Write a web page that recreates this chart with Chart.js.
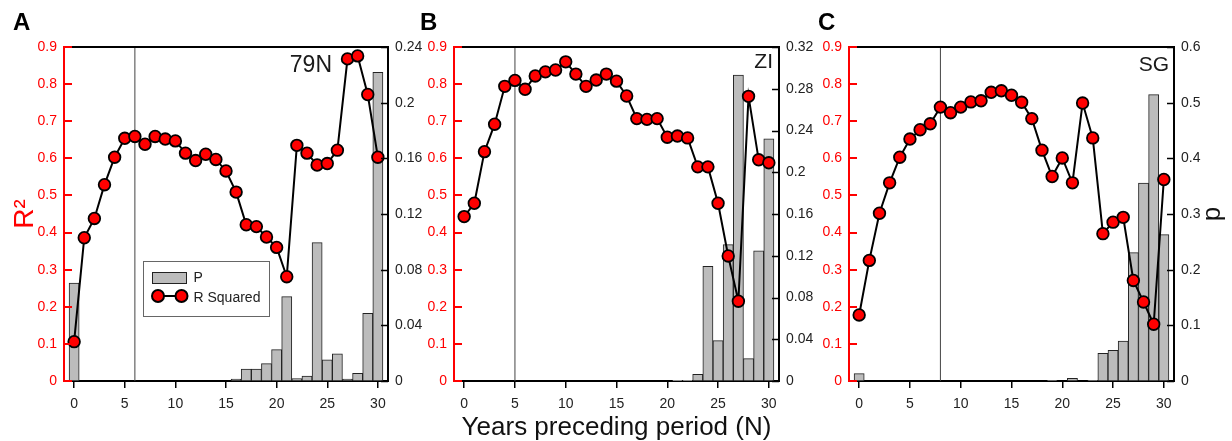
<!DOCTYPE html>
<html>
<head>
<meta charset="utf-8">
<script src="https://cdn.jsdelivr.net/npm/chart.js@4.4.1/dist/chart.umd.min.js"></script>
<style>
html, body { margin: 0; padding: 0; background: #fff; }
body { width: 1232px; height: 441px; position: relative; overflow: hidden; }
canvas { position: absolute; top: 0; }
.tag { position: absolute; top: 10px; font: bold 24px/1 "Liberation Sans", Arial, sans-serif; color: #000; }
</style>
</head>
<body>
<canvas id="cA" width="425" height="441" style="left:0px"></canvas>
<canvas id="cB" width="420" height="441" style="left:405px"></canvas>
<canvas id="cC" width="427" height="441" style="left:805px"></canvas>
<div class="tag" style="left:13px">A</div>
<div class="tag" style="left:420px">B</div>
<div class="tag" style="left:818px">C</div>
<script>
const years = [0, 1, 2, 3, 4, 5, 6, 7, 8, 9, 10, 11, 12, 13, 14, 15, 16, 17, 18, 19, 20, 21, 22, 23, 24, 25, 26, 27, 28, 29, 30];

// 79N
const r2_79N = [0.106, 0.386, 0.438, 0.529, 0.603, 0.654, 0.659, 0.638, 0.659, 0.652, 0.647, 0.614, 0.594, 0.611, 0.597, 0.566,
  0.509, 0.421, 0.416, 0.388, 0.360, 0.281, 0.635, 0.614, 0.582, 0.586, 0.622, 0.868, 0.876, 0.772, 0.603];
const p_79N = [0.0704, 0, 0, 0, 0, 0, 0, 0, 0, 0, 0, 0, 0, 0, 0, 0,
  0.0014, 0.0086, 0.0086, 0.0125, 0.0225, 0.0606, 0.0017, 0.0036, 0.0994, 0.0153, 0.0196, 0.0014, 0.0055, 0.0486, 0.2218];
const cut_79N = 6;

// ZI
const r2_ZI = [0.443, 0.479, 0.618, 0.692, 0.794, 0.810, 0.786, 0.822, 0.833, 0.838, 0.860, 0.827, 0.794, 0.811, 0.827, 0.808,
  0.768, 0.707, 0.705, 0.707, 0.657, 0.660, 0.655, 0.577, 0.577, 0.479, 0.337, 0.215, 0.767, 0.596, 0.588];
const p_ZI = [0, 0, 0, 0, 0, 0, 0, 0, 0, 0, 0, 0, 0, 0, 0, 0,
  0, 0, 0, 0, 0, 0.0006, 0.0006, 0.0064, 0.1098, 0.0387, 0.1306, 0.2931, 0.0214, 0.1248, 0.2320];
const cut_ZI = 5;

// SG
const r2_SG = [0.178, 0.325, 0.452, 0.534, 0.603, 0.652, 0.677, 0.693, 0.738, 0.723, 0.738, 0.752, 0.755, 0.778, 0.782, 0.770,
  0.751, 0.707, 0.622, 0.551, 0.601, 0.534, 0.749, 0.655, 0.397, 0.428, 0.441, 0.271, 0.213, 0.153, 0.543];
const p_SG = [0.0132, 0, 0, 0, 0, 0, 0, 0, 0, 0, 0, 0, 0, 0, 0, 0,
  0, 0, 0, 0.001, 0, 0.0048, 0, 0.001, 0.0497, 0.0551, 0.0719, 0.2305, 0.3557, 0.5144, 0.2629];
const cut_SG = 8;

// axis ticks
const xTicks = [0, 5, 10, 15, 20, 25, 30];
const r2Ticks = [0, 0.1, 0.2, 0.3, 0.4, 0.5, 0.6, 0.7, 0.8, 0.9];
const pTicks_79N = [0, 0.04, 0.08, 0.12, 0.16, 0.2, 0.24];
const pTicks_ZI = [0, 0.04, 0.08, 0.12, 0.16, 0.2, 0.24, 0.28, 0.32];
const pTicks_SG = [0, 0.1, 0.2, 0.3, 0.4, 0.5, 0.6];

const RED = '#ff0000';
const BAR = '#bcbcbc';
const FONT = '"Liberation Sans", Arial, Helvetica, sans-serif';
Chart.defaults.font.family = FONT;
Chart.defaults.color = '#222';

function xy(ys) { return years.map((x, i) => ({ x: x, y: ys[i] })); }
function fix(list) { return s => { s.ticks = list.map(v => ({ value: v })); }; }
function fmt(v) { return String(+v.toFixed(3)); }

// frame top, inward ticks, station name, legend and p title
const decor = {
  id: 'decor',
  afterDraw(chart, args, o) {
    const { ctx, chartArea: a } = chart;
    const yl = chart.scales.y, yr = chart.scales.y2;
    ctx.save();
    ctx.strokeStyle = '#000';
    ctx.lineWidth = 2;
    ctx.beginPath(); ctx.moveTo(a.left, a.top); ctx.lineTo(a.right + 1, a.top); ctx.stroke();

    ctx.strokeStyle = RED; ctx.lineWidth = 2;
    yl.ticks.forEach(t => {
      const y = Math.round(yl.getPixelForValue(t.value));
      ctx.beginPath(); ctx.moveTo(a.left, y); ctx.lineTo(a.left + 8, y); ctx.stroke();
    });
    ctx.strokeStyle = '#000'; ctx.lineWidth = 1.5;
    yr.ticks.forEach(t => {
      const y = Math.round(yr.getPixelForValue(t.value)) + 0.5;
      ctx.beginPath(); ctx.moveTo(a.right, y); ctx.lineTo(a.right - 7, y); ctx.stroke();
    });

    ctx.fillStyle = '#1a1a1a';
    ctx.font = o.size + 'px ' + FONT;
    ctx.textAlign = 'right';
    ctx.textBaseline = 'alphabetic';
    ctx.fillText(o.station, a.right - o.dx, a.top + o.dy);

    if (o.legend) {
      const ds = chart.data.datasets;
      const bx = a.left + 79, by = a.top + 214;
      ctx.fillStyle = '#fff'; ctx.fillRect(bx, by, 126, 55);
      ctx.strokeStyle = '#666'; ctx.lineWidth = 1; ctx.strokeRect(bx + 0.5, by + 0.5, 126, 55);
      ctx.fillStyle = BAR; ctx.fillRect(a.left + 88.5, a.top + 225.5, 34, 11);
      ctx.strokeStyle = '#222'; ctx.strokeRect(a.left + 88.5, a.top + 225.5, 34, 11);
      ctx.strokeStyle = '#000'; ctx.lineWidth = 2;
      ctx.beginPath(); ctx.moveTo(a.left + 94, a.top + 249); ctx.lineTo(a.left + 117.5, a.top + 249); ctx.stroke();
      [94, 117.5].forEach(dx => {
        ctx.beginPath(); ctx.arc(a.left + dx, a.top + 249, 6, 0, Math.PI * 2);
        ctx.fillStyle = RED; ctx.fill(); ctx.stroke();
      });
      ctx.fillStyle = '#222'; ctx.font = '14px ' + FONT; ctx.textAlign = 'left';
      ctx.fillText(ds[2].label, a.left + 129.5, a.top + 234.7);
      ctx.fillText(ds[0].label, a.left + 129.5, a.top + 254.7);
    }

    if (o.pTitle) {
      ctx.translate(a.right + 45.5, (a.top + a.bottom) / 2);
      ctx.rotate(-Math.PI / 2);
      ctx.fillStyle = '#111'; ctx.font = '26px ' + FONT; ctx.textAlign = 'center';
      ctx.fillText(o.pTitle, 0, 0);
    }
    ctx.restore();
  }
};

const panels = [
  { id: 'cA', r2: r2_79N, p: p_79N, cut: cut_79N, pMax: 0.24, pTicks: pTicks_79N, lw: 64, rw: 37,
    station: '79N', size: 23, dx: 56, dy: 25.3, r2Title: true, legend: true },
  { id: 'cB', r2: r2_ZI, p: p_ZI, cut: cut_ZI, pMax: 0.32, pTicks: pTicks_ZI, lw: 49, rw: 46,
    station: 'ZI', size: 21, dx: 6, dy: 21.3, xTitle: true },
  { id: 'cC', r2: r2_SG, p: p_SG, cut: cut_SG, pMax: 0.6, pTicks: pTicks_SG, lw: 44, rw: 58,
    station: 'SG', size: 21, dx: 5, dy: 23.7, pTitle: 'p' }
];

panels.forEach(cfg => {
  new Chart(document.getElementById(cfg.id), {
    type: 'bar',
    data: {
      datasets: [
        { type: 'line', label: 'R Squared', data: xy(cfg.r2), yAxisID: 'y', borderColor: '#000', borderWidth: 2,
          pointRadius: 5.8, pointBackgroundColor: RED, pointBorderColor: '#000', pointBorderWidth: 1.8, order: 0 },
        { type: 'line', label: 'N', data: [{ x: cfg.cut, y: 0 }, { x: cfg.cut, y: 0.9 }], yAxisID: 'y',
          borderColor: '#444', borderWidth: 1, pointRadius: 0, order: 1 },
        { type: 'bar', label: 'P', data: xy(cfg.p), yAxisID: 'y2', backgroundColor: BAR, borderColor: '#222',
          borderWidth: 1, borderSkipped: false, barPercentage: 1, categoryPercentage: 1, order: 2 }
      ]
    },
    options: {
      responsive: false,
      animation: false,
      events: [],
      layout: { padding: { top: 47, left: 0, right: 0, bottom: 0 } },
      plugins: {
        legend: { display: false },
        tooltip: { enabled: false },
        decor: cfg
      },
      scales: {
        x: {
          type: 'linear', min: -1, max: 31, offset: false,
          afterBuildTicks: fix(xTicks),
          afterFit: s => { s.height = 60; },
          grid: { display: true, drawOnChartArea: false, drawTicks: true, tickLength: 7, color: '#000', lineWidth: 1.5, offset: false },
          border: { display: true, color: '#000', width: 2 },
          ticks: { color: '#222', font: { size: 14 }, padding: 8, maxRotation: 0, autoSkip: false, callback: fmt },
          title: { display: !!cfg.xTitle, text: 'Years preceding period (N)', color: '#111', font: { size: 26 }, padding: { top: 0, bottom: -2 } }
        },
        y: {
          type: 'linear', position: 'left', min: 0, max: 0.9,
          afterBuildTicks: fix(r2Ticks),
          afterFit: s => { s.width = cfg.lw; },
          grid: { display: false, drawTicks: false },
          border: { display: true, color: RED, width: 2 },
          ticks: { color: RED, font: { size: 14 }, padding: 7, callback: fmt },
          title: { display: !!cfg.r2Title, text: 'R²', color: RED, font: { size: 28 }, padding: { top: 8, bottom: 0 } }
        },
        y2: {
          type: 'linear', position: 'right', min: 0, max: cfg.pMax,
          afterBuildTicks: fix(cfg.pTicks),
          afterFit: s => { s.width = cfg.rw; },
          grid: { display: false, drawTicks: false },
          border: { display: true, color: '#000', width: 2 },
          ticks: { color: '#222', font: { size: 14 }, padding: 7, callback: fmt }
        }
      }
    },
    plugins: [decor]
  });
});
</script>
</body>
</html>
